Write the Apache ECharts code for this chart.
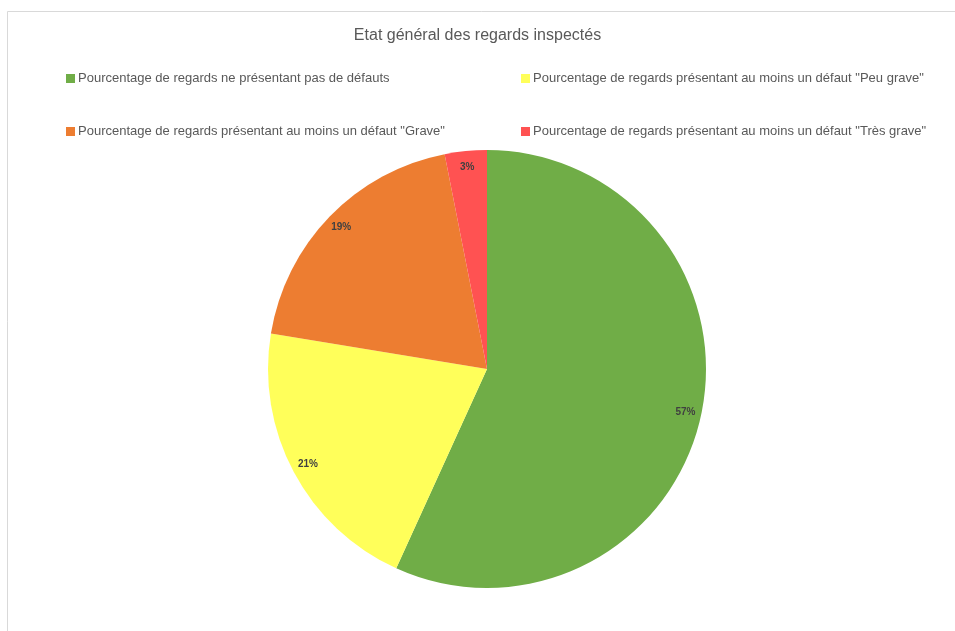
<!DOCTYPE html>
<html>
<head>
<meta charset="utf-8">
<script src="https://cdn.jsdelivr.net/npm/echarts@6/dist/echarts.min.js"></script>
<style>
html,body{margin:0;padding:0;background:#fff;}
#main{width:955px;height:631px;}
</style>
</head>
<body>
<div id="main"></div>
<script>
var titleText = 'Etat général des regards inspectés';
var categories = [
  'Pourcentage de regards ne présentant pas de défauts',
  'Pourcentage de regards présentant au moins un défaut "Peu grave"',
  'Pourcentage de regards présentant au moins un défaut "Grave"',
  'Pourcentage de regards présentant au moins un défaut "Très grave"'
];
var values = [56.8, 20.8, 19.3, 3.1];
var colors = ['#70AD47', '#FFFF5A', '#ED7D31', '#FF5252'];

var chart = echarts.init(document.getElementById('main'));
var font = 'Liberation Sans, Arial, sans-serif';
var legendPos = [
  {left: 66, top: 72},
  {left: 521, top: 72},
  {left: 66, top: 125},
  {left: 521, top: 125}
];
var legends = categories.map(function (c, i) {
  return {
    data: [c],
    left: legendPos[i].left,
    top: legendPos[i].top,
    orient: 'horizontal',
    icon: 'rect',
    itemWidth: 9,
    itemHeight: 9,
    itemGap: 0,
    padding: 0,
    selectedMode: false,
    textStyle: {color: '#595959', fontSize: 13, fontFamily: font, padding: [0, 0, 0, -2]}
  };
});
var pieData = categories.map(function (c, i) {
  return {name: c, value: values[i], itemStyle: {color: colors[i]}};
});
var labelData = categories.map(function (c, i) {
  return {name: c, value: values[i], itemStyle: {color: 'rgba(0,0,0,0)'}};
});
chart.setOption({
  backgroundColor: '#fff',
  animation: false,
  title: {
    text: titleText,
    left: 'center',
    top: 23,
    textStyle: {color: '#595959', fontSize: 16, fontWeight: 'normal', fontFamily: font}
  },
  legend: legends,
  graphic: [{
    type: 'rect',
    shape: {x: 7.5, y: 11.5, width: 1000, height: 1000},
    style: {fill: 'none', stroke: '#d9d9d9', lineWidth: 1},
    silent: true,
    z: -1
  }],
  series: [{
    type: 'pie',
    center: [487, 369],
    radius: [0, 219],
    startAngle: 90,
    clockwise: true,
    label: {show: false},
    labelLine: {show: false},
    itemStyle: {borderWidth: 0},
    emphasis: {disabled: true},
    data: pieData
  }, {
    type: 'pie',
    center: [487, 369],
    radius: [182, 218],
    startAngle: 90,
    clockwise: true,
    silent: true,
    legendHoverLink: false,
    label: {
      show: true,
      position: 'inside',
      formatter: function (p) { return Math.round(p.percent) + '%'; },
      color: '#404040',
      fontSize: 10,
      fontWeight: 'bold',
      fontFamily: font
    },
    labelLine: {show: false},
    itemStyle: {borderWidth: 0},
    emphasis: {disabled: true},
    data: labelData,
    z: 3
  }]
});
</script>
</body>
</html>
